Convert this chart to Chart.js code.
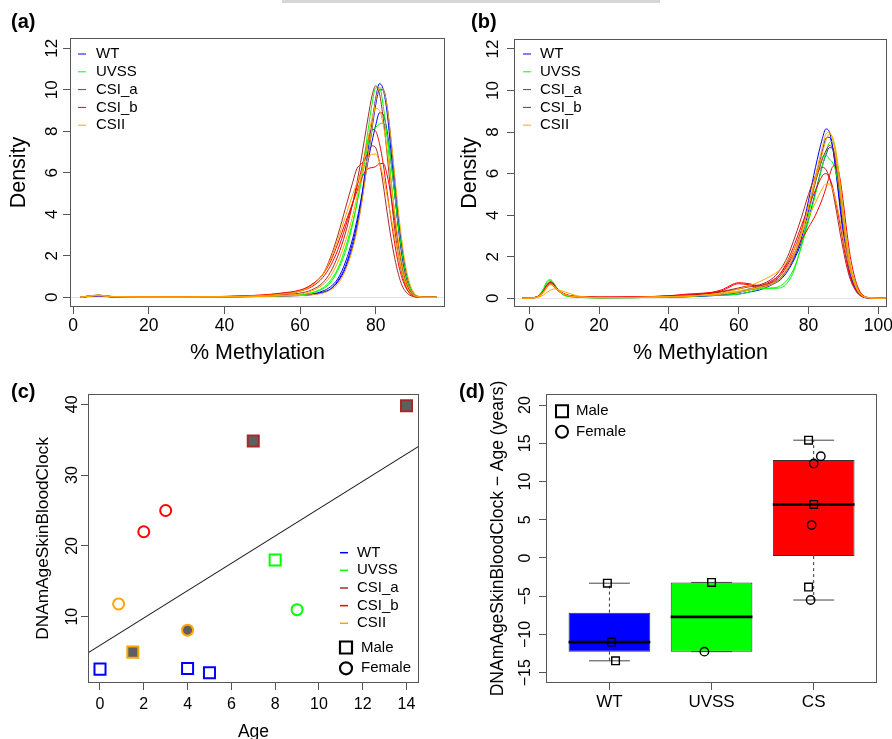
<!DOCTYPE html>
<html>
<head>
<meta charset="utf-8">
<script src="https://cdn.jsdelivr.net/npm/chart.js@4.4.1/dist/chart.umd.min.js"></script>
<style>
  html, body { margin: 0; padding: 0; background: #fff; overflow: hidden; }
  body { width: 892px; height: 739px; position: relative; }
  .panel { position: absolute; }
  #topBar { position: absolute; left: 282px; top: 0; width: 378px; height: 3px; background: #d6d6d6; }
</style>
</head>
<body>
<div id="topBar"></div>
<div class="panel" style="left:0;top:0;width:446px;height:370px"><canvas id="chartA"></canvas></div>
<div class="panel" style="left:446px;top:0;width:446px;height:370px"><canvas id="chartB"></canvas></div>
<div class="panel" style="left:0;top:370px;width:446px;height:380px"><canvas id="chartC"></canvas></div>
<div class="panel" style="left:446px;top:370px;width:446px;height:380px"><canvas id="chartD"></canvas></div>

<script>
// ============================== data

const groupNames  = ['WT', 'UVSS', 'CSI_a', 'CSI_b', 'CSII'];
const groupColors = ['#0000FF', '#00FF00', '#A52A2A', '#FF0000', '#FFA500'];

// (a) density of % methylation, one curve per sample
const methA  = [2, 5, 7, 10, 20, 30, 40, 50, 55, 60, 63, 66, 68, 70, 72, 74, 75, 76, 77, 78, 79, 80, 81, 82, 83, 84, 85, 86, 87, 88, 89, 90, 91, 93, 96];
const wtA1   = [0, 0.05, 0.06, 0.02, 0.01, 0.01, 0.02, 0.04, 0.06, 0.1, 0.14, 0.25, 0.4, 0.8, 1.5, 2.7, 3.5, 4.5, 5.8, 7.1, 8.4, 9.6, 10.3, 10.0, 8.9, 7.1, 5.1, 3.3, 1.9, 0.95, 0.4, 0.12, 0.03, 0, 0];
const wtA2   = [0, 0.06, 0.07, 0.02, 0.01, 0.01, 0.02, 0.04, 0.06, 0.08, 0.12, 0.22, 0.38, 0.75, 1.4, 2.5, 3.3, 4.3, 5.5, 6.8, 8.1, 9.3, 10.0, 10.0, 9.2, 7.6, 5.7, 3.8, 2.3, 1.2, 0.5, 0.17, 0.05, 0, 0];
const wtA3   = [0, 0.06, 0.08, 0.03, 0.01, 0.01, 0.02, 0.05, 0.07, 0.1, 0.15, 0.3, 0.5, 0.9, 1.7, 2.9, 3.7, 4.6, 5.6, 6.6, 7.5, 8.3, 8.9, 8.8, 8.0, 6.6, 5.0, 3.4, 2.1, 1.1, 0.5, 0.18, 0.05, 0, 0];
const uvA1   = [0, 0.07, 0.09, 0.03, 0.01, 0.01, 0.02, 0.04, 0.07, 0.1, 0.2, 0.4, 0.7, 1.3, 2.2, 3.6, 4.5, 5.6, 6.8, 8.1, 9.3, 10.1, 10.1, 9.2, 7.7, 5.8, 4.0, 2.5, 1.4, 0.7, 0.3, 0.1, 0.02, 0, 0];
const uvA2   = [0, 0.08, 0.1, 0.03, 0.01, 0.01, 0.02, 0.05, 0.08, 0.12, 0.22, 0.45, 0.8, 1.4, 2.4, 3.7, 4.5, 5.4, 6.4, 7.4, 8.0, 8.2, 8.35, 8.4, 7.8, 6.6, 5.0, 3.4, 2.1, 1.1, 0.5, 0.18, 0.05, 0, 0];
const csiaA1 = [0, 0.07, 0.09, 0.03, 0.01, 0.01, 0.03, 0.07, 0.12, 0.2, 0.35, 0.7, 1.2, 2.0, 3.1, 4.6, 5.5, 6.5, 7.6, 8.7, 9.7, 10.2, 9.8, 8.6, 6.9, 5.0, 3.3, 2.0, 1.1, 0.5, 0.2, 0.06, 0.01, 0, 0];
const csiaA2 = [0, 0.08, 0.1, 0.04, 0.01, 0.01, 0.03, 0.08, 0.15, 0.3, 0.6, 1.1, 1.9, 3.0, 4.3, 5.6, 6.2, 6.4, 6.6, 7.0, 7.3, 7.2, 6.5, 5.4, 4.1, 2.9, 1.9, 1.1, 0.55, 0.25, 0.1, 0.03, 0, 0, 0];
const csibA1 = [0, 0.07, 0.09, 0.04, 0.01, 0.02, 0.04, 0.1, 0.18, 0.3, 0.5, 0.95, 1.5, 2.3, 3.4, 4.6, 5.3, 6.0, 6.8, 7.6, 8.1, 8.0, 7.4, 6.4, 5.1, 3.8, 2.6, 1.6, 0.9, 0.45, 0.18, 0.05, 0.01, 0, 0];
const csibA2 = [0, 0.07, 0.08, 0.03, 0.01, 0.02, 0.04, 0.11, 0.2, 0.35, 0.6, 1.1, 1.7, 2.6, 3.6, 4.6, 5.1, 5.6, 6.0, 6.2, 6.25, 6.3, 6.45, 6.45, 5.9, 4.9, 3.7, 2.5, 1.5, 0.75, 0.3, 0.08, 0.01, 0, 0];
const csiiA1 = [0, 0.06, 0.08, 0.03, 0.01, 0.01, 0.02, 0.04, 0.06, 0.08, 0.12, 0.2, 0.35, 0.65, 1.3, 2.4, 3.2, 4.2, 5.4, 6.8, 8.2, 9.5, 10.1, 10.0, 9.2, 7.7, 5.9, 4.1, 2.6, 1.4, 0.65, 0.25, 0.07, 0, 0];
const csiiA2 = [0, 0.07, 0.09, 0.03, 0.01, 0.01, 0.02, 0.05, 0.09, 0.15, 0.3, 0.6, 1.0, 1.7, 2.7, 4.0, 4.8, 5.7, 6.7, 7.7, 8.6, 9.1, 9.0, 8.3, 7.1, 5.6, 4.1, 2.7, 1.6, 0.85, 0.4, 0.14, 0.04, 0, 0];
const csiiA3 = [0, 0.08, 0.1, 0.04, 0.01, 0.01, 0.03, 0.08, 0.15, 0.3, 0.55, 1.1, 1.8, 2.8, 3.9, 5.0, 5.5, 5.9, 6.3, 6.7, 6.9, 6.9, 6.5, 5.8, 4.9, 3.9, 2.9, 2.0, 1.2, 0.6, 0.25, 0.08, 0.02, 0, 0];

// (b) density of % methylation, second probe set
const methB  = [-2, 2, 4, 5, 6, 7, 8, 10, 12, 15, 20, 30, 40, 45, 50, 55, 60, 63, 66, 70, 72, 74, 76, 78, 80, 82, 84, 85, 86, 87, 88, 89, 90, 91, 92, 94, 97, 102];
const wtB1   = [0, 0.05, 0.35, 0.6, 0.75, 0.65, 0.45, 0.2, 0.1, 0.05, 0.03, 0.03, 0.06, 0.07, 0.1, 0.15, 0.2, 0.3, 0.4, 0.7, 0.95, 1.4, 2.1, 3.2, 4.7, 6.3, 7.7, 8.15, 8.0, 7.2, 5.9, 4.4, 3.0, 1.9, 1.1, 0.3, 0.02, 0];
const wtB2   = [0, 0.05, 0.3, 0.55, 0.7, 0.6, 0.4, 0.18, 0.1, 0.06, 0.03, 0.04, 0.07, 0.08, 0.12, 0.18, 0.28, 0.4, 0.5, 0.75, 1.0, 1.4, 2.0, 2.9, 4.2, 5.7, 7.1, 7.7, 7.75, 7.2, 6.0, 4.6, 3.2, 2.0, 1.2, 0.35, 0.03, 0];
const wtB3   = [0, 0.04, 0.3, 0.55, 0.7, 0.6, 0.42, 0.2, 0.1, 0.06, 0.03, 0.04, 0.08, 0.1, 0.14, 0.2, 0.3, 0.45, 0.55, 0.7, 0.9, 1.3, 1.9, 2.7, 3.8, 5.1, 6.4, 6.9, 7.25, 7.2, 6.4, 5.1, 3.7, 2.4, 1.4, 0.4, 0.03, 0];
const uvB1   = [0, 0.06, 0.45, 0.8, 0.9, 0.75, 0.45, 0.15, 0.07, 0.04, 0.02, 0.03, 0.06, 0.08, 0.12, 0.15, 0.2, 0.3, 0.45, 0.5, 0.6, 0.9, 1.5, 2.5, 3.7, 5.0, 6.4, 7.0, 7.5, 7.55, 6.9, 5.6, 4.1, 2.7, 1.6, 0.5, 0.04, 0];
const uvB2   = [0, 0.06, 0.4, 0.75, 0.85, 0.7, 0.45, 0.15, 0.07, 0.04, 0.02, 0.03, 0.07, 0.1, 0.15, 0.22, 0.3, 0.4, 0.5, 0.48, 0.5, 0.75, 1.4, 2.6, 4.0, 5.6, 6.8, 6.9, 6.7, 6.5, 6.0, 5.0, 3.7, 2.5, 1.5, 0.45, 0.03, 0];
const csiaB1 = [0, 0.05, 0.35, 0.65, 0.8, 0.7, 0.45, 0.2, 0.1, 0.06, 0.04, 0.05, 0.1, 0.13, 0.2, 0.3, 0.45, 0.55, 0.6, 0.9, 1.2, 1.7, 2.4, 3.3, 4.4, 5.6, 6.7, 7.1, 7.35, 7.2, 6.3, 5.0, 3.6, 2.3, 1.4, 0.4, 0.03, 0];
const csiaB2 = [0, 0.05, 0.3, 0.6, 0.75, 0.65, 0.45, 0.2, 0.12, 0.07, 0.05, 0.06, 0.12, 0.16, 0.22, 0.32, 0.5, 0.6, 0.65, 1.0, 1.4, 2.0, 2.9, 3.9, 5.0, 5.9, 6.3, 6.2, 5.8, 5.1, 4.2, 3.2, 2.3, 1.5, 0.9, 0.25, 0.02, 0];
const csibB1 = [0, 0.05, 0.3, 0.6, 0.75, 0.65, 0.45, 0.22, 0.12, 0.08, 0.06, 0.06, 0.12, 0.2, 0.25, 0.35, 0.7, 0.65, 0.6, 0.85, 1.2, 1.8, 2.6, 3.5, 4.4, 5.2, 5.9, 6.0, 5.8, 5.3, 4.5, 3.6, 2.6, 1.7, 1.0, 0.3, 0.02, 0];
const csibB2 = [0, 0.05, 0.3, 0.55, 0.7, 0.6, 0.4, 0.2, 0.1, 0.07, 0.05, 0.06, 0.1, 0.15, 0.22, 0.4, 0.75, 0.7, 0.6, 0.8, 1.1, 1.6, 2.2, 2.8, 3.4, 4.0, 4.8, 5.3, 5.9, 6.35, 6.4, 5.8, 4.6, 3.2, 2.0, 0.6, 0.04, 0];
const csiiB1 = [0, 0.04, 0.25, 0.5, 0.65, 0.6, 0.45, 0.2, 0.1, 0.06, 0.03, 0.04, 0.08, 0.1, 0.15, 0.22, 0.35, 0.45, 0.5, 0.7, 0.95, 1.4, 2.1, 3.1, 4.4, 5.9, 7.3, 7.9, 8.0, 7.6, 6.6, 5.2, 3.7, 2.4, 1.4, 0.4, 0.03, 0];
const csiiB2 = [0, 0.05, 0.3, 0.55, 0.7, 0.6, 0.4, 0.2, 0.1, 0.06, 0.03, 0.04, 0.08, 0.1, 0.14, 0.2, 0.3, 0.4, 0.55, 0.75, 1.0, 1.5, 2.2, 3.2, 4.4, 5.7, 7.0, 7.6, 7.9, 7.7, 6.9, 5.6, 4.1, 2.7, 1.6, 0.45, 0.03, 0];
const csiiB3 = [0, 0.03, 0.15, 0.28, 0.38, 0.45, 0.42, 0.32, 0.2, 0.08, 0.03, 0.03, 0.08, 0.1, 0.15, 0.25, 0.45, 0.6, 0.8, 1.15, 1.4, 1.8, 2.4, 3.1, 3.9, 4.6, 5.3, 5.5, 5.5, 5.2, 4.6, 3.8, 2.9, 2.0, 1.3, 0.4, 0.03, 0];

const samplesA = [['WT', wtA1], ['WT', wtA2], ['WT', wtA3], ['UVSS', uvA1], ['UVSS', uvA2], ['CSI_a', csiaA1], ['CSI_a', csiaA2], ['CSI_b', csibA1], ['CSI_b', csibA2], ['CSII', csiiA1], ['CSII', csiiA2], ['CSII', csiiA3]];
const samplesB = [['WT', wtB1], ['WT', wtB2], ['WT', wtB3], ['UVSS', uvB1], ['UVSS', uvB2], ['CSI_a', csiaB1], ['CSI_a', csiaB2], ['CSI_b', csibB1], ['CSI_b', csibB2], ['CSII', csiiB1], ['CSII', csiiB2], ['CSII', csiiB3]];

// (c) epigenetic clock vs age
const ageC    = [0, 4, 5, 8, 9, 2, 3, 7, 14, 0.85, 1.5, 4];
const clockC  = [2.6, 2.7, 2.1, 18, 11, 22, 25, 34.8, 39.8, 11.8, 5, 8.1];
const groupC  = ['WT', 'WT', 'WT', 'UVSS', 'UVSS', 'CSI_b', 'CSI_b', 'CSI_a', 'CSI_a', 'CSII', 'CSII', 'CSII'];
const sexC    = ['M', 'M', 'M', 'M', 'F', 'F', 'F', 'M', 'M', 'F', 'M', 'F'];
const filledC = [0, 0, 0, 0, 0, 0, 0, 1, 1, 0, 1, 1];
const fitC    = { intercept: 5.96, slope: 1.93 };

// (d) age acceleration boxplot
const catsD   = ['WT', 'UVSS', 'CS'];
const colorsD = ['#0000FF', '#00FF00', '#FF0000'];
const q1D     = [-12.25, -12.25, 0.25];
const medD    = [-11.0, -7.7, 7.0];
const q3D     = [-7.15, -3.2, 12.8];
const loD     = [-13.45, -12.25, -5.5];
const hiD     = [-3.3, -3.2, 15.4];
const maleXD   = [0.98, 1.02, 1.06, 2.0, 2.95, 3.0, 2.95];
const maleYD   = [-3.3, -11.0, -13.45, -3.2, 15.4, 7.0, -3.8];
const femaleXD = [1.93, 3.07, 3.0, 2.98, 2.97];
const femaleYD = [-12.25, 13.3, 12.35, 4.3, -5.5];

const ticksA  = [0, 20, 40, 60, 80];
const ticksAy = [0, 2, 4, 6, 8, 10, 12];
const ticksB  = [0, 20, 40, 60, 80, 100];
const ticksCx = [0, 2, 4, 6, 8, 10, 12, 14];
const ticksCy = [10, 20, 30, 40];
const ticksDx = [1, 2, 3];
const ticksDy = [-15, -10, -5, 0, 5, 10, 15, 20];

// ============================== helpers

Chart.defaults.font.family = '"Liberation Sans", Arial, Helvetica, sans-serif';
Chart.defaults.color = '#000';
Chart.defaults.animation = false;

const FONT = '"Liberation Sans", Arial, Helvetica, sans-serif';

function colorOf(g) {
  return groupColors[groupNames.indexOf(g)];
}

function fixedTicks(list) {
  return axis => { axis.ticks = list.map(v => ({ value: v })); };
}

function fitTo(size) {
  return s => {
    if (s.isHorizontal()) s.height = size; else s.width = size;
    s.paddingLeft = 0; s.paddingRight = 0; s.paddingTop = 0; s.paddingBottom = 0;
  };
}

function minusSign(v) {
  return v < 0 ? '\u2212' + Math.abs(v) : String(v);
}

function xAxis(o) {
  const ticks = { autoSkip: false, minRotation: 0, maxRotation: 0, font: { size: o.font }, padding: o.pad };
  if (o.cb) ticks.callback = o.cb;
  return {
    type: 'linear', position: 'bottom', min: o.min, max: o.max, offset: false,
    afterBuildTicks: fixedTicks(o.ticks), afterFit: fitTo(o.size),
    border: { display: false },
    grid: { drawOnChartArea: false, tickLength: 7, color: '#555', offset: false },
    ticks: ticks,
    title: { display: !!o.title, text: o.title, font: { size: o.titleSize }, padding: { top: 0, bottom: o.titlePad } }
  };
}

function yAxis(o) {
  const ticks = { autoSkip: false, minRotation: 90, maxRotation: 90, crossAlign: 'center', font: { size: o.font }, padding: o.pad };
  if (o.cb) ticks.callback = o.cb;
  return {
    type: 'linear', position: 'left', min: o.min, max: o.max,
    afterBuildTicks: fixedTicks(o.ticks), afterFit: fitTo(o.size),
    border: { display: false },
    grid: {
      drawOnChartArea: !!o.zeroLine, tickLength: 7, tickColor: '#555',
      color: c => (o.zeroLine && c.tick && c.tick.value === 0) ? '#e4e4e4' : 'rgba(0,0,0,0)'
    },
    ticks: ticks,
    title: { display: true, text: o.title, font: { size: o.titleSize }, padding: { top: o.titlePad, bottom: 0 } }
  };
}

function densitySets(xs, samples) {
  return samples.map(([g, ys]) => ({
    type: 'line',
    data: xs.map((x, i) => ({ x: x, y: ys[i] })),
    borderColor: colorOf(g),
    borderWidth: 1,
    pointRadius: 0,
    fill: false,
    cubicInterpolationMode: 'monotone'
  })).reverse();
}

// plot frame, panel letter and hand placed legends
const panelDeco = {
  id: 'panelDeco',
  afterDraw(chart, args, o) {
    const { ctx, chartArea: a } = chart;
    ctx.save();
    ctx.strokeStyle = '#555';
    ctx.lineWidth = 1;
    ctx.strokeRect(Math.round(a.left) + 0.5, Math.round(a.top) + 0.5,
      Math.round(a.right - a.left) - 1, Math.round(a.bottom - a.top) - 1);

    ctx.fillStyle = '#000';
    ctx.font = 'bold 20px ' + FONT;
    ctx.textAlign = 'left';
    ctx.textBaseline = 'alphabetic';
    ctx.fillText(o.label, o.labelX, o.labelY);

    (o.legends || []).forEach(lg => {
      ctx.font = lg.size + 'px ' + FONT;
      ctx.textBaseline = 'middle';
      lg.items.forEach((it, i) => {
        const y = lg.y + i * lg.step;
        ctx.strokeStyle = it.color || '#000';
        ctx.lineWidth = lg.lw;
        ctx.beginPath();
        if (it.marker === 'rect') {
          ctx.rect(lg.x - lg.r, y - lg.r, lg.r * 2, lg.r * 2);
        } else if (it.marker === 'circle') {
          ctx.arc(lg.x, y, lg.r, 0, Math.PI * 2);
        } else {
          ctx.moveTo(lg.x - lg.r, y);
          ctx.lineTo(lg.x + lg.r, y);
        }
        ctx.stroke();
        ctx.fillStyle = '#000';
        ctx.fillText(it.text, lg.textX, y);
      });
    });
    ctx.restore();
  }
};

const groupLegend = groupNames.map((g, i) => ({ text: g, color: groupColors[i] }));

function baseOptions(pad, scales, deco) {
  return {
    responsive: true,
    maintainAspectRatio: false,
    animation: false,
    layout: { padding: pad },
    plugins: { legend: { display: false }, tooltip: { enabled: false }, panelDeco: deco },
    scales: scales
  };
}

// ============================== (a)

new Chart(document.getElementById('chartA'), {
  type: 'line',
  data: { datasets: densitySets(methA, samplesA) },
  options: baseOptions({ left: 0, top: 38, right: 1, bottom: 0 }, {
    x: xAxis({ min: -0.8, max: 98.3, ticks: ticksA, size: 63, font: 17.5, pad: 2, title: '% Methylation', titleSize: 21.5, titlePad: 3.6 }),
    y: yAxis({ min: -0.47, max: 12.5, ticks: ticksAy, size: 70, font: 17, pad: 1, title: 'Density', titleSize: 21.5, titlePad: 6.6, zeroLine: true })
  }, {
    label: '(a)', labelX: 11, labelY: 28,
    legends: [{ x: 82, textX: 96, y: 54, step: 17.8, r: 4, lw: 1, size: 15, items: groupLegend }]
  }),
  plugins: [panelDeco]
});

// ============================== (b)

new Chart(document.getElementById('chartB'), {
  type: 'line',
  data: { datasets: densitySets(methB, samplesB) },
  options: baseOptions({ left: 0, top: 39, right: 5, bottom: 0 }, {
    x: xAxis({ min: -4.38, max: 102.5, ticks: ticksB, size: 63, font: 17.5, pad: 2, title: '% Methylation', titleSize: 21.5, titlePad: 3.6 }),
    y: yAxis({ min: -0.42, max: 12.48, ticks: ticksAy, size: 68, font: 17, pad: 4, title: 'Density', titleSize: 21.5, titlePad: 11.6, zeroLine: true })
  }, {
    label: '(b)', labelX: 25, labelY: 28,
    legends: [{ x: 81, textX: 94, y: 54, step: 17.8, r: 4, lw: 1, size: 15, items: groupLegend }]
  }),
  plugins: [panelDeco]
});

// ============================== (c)

const xMinC = -0.548, xMaxC = 14.57;

new Chart(document.getElementById('chartC'), {
  type: 'scatter',
  data: {
    datasets: [{
      type: 'scatter',
      data: ageC.map((x, i) => ({ x: x, y: clockC[i] })),
      pointStyle: c => sexC[c.dataIndex] === 'M' ? 'rect' : 'circle',
      pointRadius: c => sexC[c.dataIndex] === 'M' ? 7.8 : 5.5,
      pointBorderWidth: 2,
      pointBorderColor: c => colorOf(groupC[c.dataIndex]),
      pointBackgroundColor: c => filledC[c.dataIndex] ? '#5f5f5f' : 'rgba(0,0,0,0)'
    }, {
      type: 'line',
      data: [xMinC, xMaxC].map(x => ({ x: x, y: fitC.intercept + fitC.slope * x })),
      borderColor: '#222',
      borderWidth: 1.1,
      pointRadius: 0
    }]
  },
  options: baseOptions({ left: 0, top: 24, right: 27, bottom: 0 }, {
    x: xAxis({ min: xMinC, max: xMaxC, ticks: ticksCx, size: 67, font: 16, pad: 5, title: 'Age', titleSize: 17.5, titlePad: 7.5 }),
    y: yAxis({ min: 0.64, max: 41.45, ticks: ticksCy, size: 88, font: 16, pad: 0, title: 'DNAmAgeSkinBloodClock', titleSize: 17.3, titlePad: 32.9 })
  }, {
    label: '(c)', labelX: 11, labelY: 27.5,
    legends: [
      { x: 344, textX: 357, y: 182.7, step: 17.65, r: 4, lw: 1.5, size: 15, items: groupLegend },
      { x: 346, textX: 361, y: 277.5, step: 20.8, r: 6, lw: 2.2, size: 15,
        items: [{ text: 'Male', marker: 'rect' }, { text: 'Female', marker: 'circle' }] }
    ]
  }),
  plugins: [panelDeco]
});

// ============================== (d)

const medianPts = [], capPts = [], whiskerPts = [];
catsD.forEach((c, i) => {
  const x = i + 1;
  medianPts.push({ x: x - 0.4, y: medD[i] }, { x: x + 0.4, y: medD[i] }, { x: x, y: null });
  capPts.push({ x: x - 0.2, y: hiD[i] }, { x: x + 0.2, y: hiD[i] }, { x: x, y: null },
              { x: x - 0.2, y: loD[i] }, { x: x + 0.2, y: loD[i] }, { x: x, y: null });
  whiskerPts.push({ x: x, y: q3D[i] }, { x: x, y: hiD[i] }, { x: x, y: null },
                  { x: x, y: q1D[i] }, { x: x, y: loD[i] }, { x: x, y: null });
});

new Chart(document.getElementById('chartD'), {
  type: 'scatter',
  data: {
    datasets: [{
      type: 'scatter',
      data: maleXD.map((x, i) => ({ x: x, y: maleYD[i] })),
      pointStyle: 'rect', pointRadius: 5.4, pointBorderWidth: 1.4,
      pointBorderColor: '#000', pointBackgroundColor: 'rgba(0,0,0,0)'
    }, {
      type: 'scatter',
      data: femaleXD.map((x, i) => ({ x: x, y: femaleYD[i] })),
      pointStyle: 'circle', pointRadius: 4.2, pointBorderWidth: 1.4,
      pointBorderColor: '#000', pointBackgroundColor: 'rgba(0,0,0,0)'
    }, {
      type: 'line', data: medianPts, borderColor: '#000', borderWidth: 2.6, pointRadius: 0, spanGaps: false
    }, {
      type: 'line', data: capPts, borderColor: '#444', borderWidth: 1, pointRadius: 0, spanGaps: false
    }, {
      type: 'line', data: whiskerPts, borderColor: '#333', borderWidth: 1, borderDash: [3, 3], pointRadius: 0, spanGaps: false
    }, {
      type: 'bar',
      data: catsD.map((c, i) => ({ x: i + 1, y: [q1D[i], q3D[i]] })),
      backgroundColor: colorsD,
      borderColor: '#333',
      borderWidth: 1,
      borderSkipped: false,
      barPercentage: 0.8,
      categoryPercentage: 1,
      grouped: false
    }]
  },
  options: baseOptions({ left: 0, top: 24, right: 15, bottom: 0 }, {
    x: xAxis({ min: 0.379, max: 3.62, ticks: ticksDx, size: 67, font: 17, pad: 2.3, cb: v => catsD[v - 1] || '' }),
    y: yAxis({ min: -16.35, max: 21.44, ticks: ticksDy, size: 100, font: 16, pad: 0, cb: minusSign,
      title: 'DNAmAgeSkinBloodClock \u2212 Age (years)', titleSize: 17.5, titlePad: 41.5 })
  }, {
    label: '(d)', labelX: 13, labelY: 27.5,
    legends: [{ x: 116, textX: 130, y: 41.3, step: 20.4, r: 6, lw: 2, size: 15,
      items: [{ text: 'Male', marker: 'rect' }, { text: 'Female', marker: 'circle' }] }]
  }),
  plugins: [panelDeco]
});
</script>
</body>
</html>
